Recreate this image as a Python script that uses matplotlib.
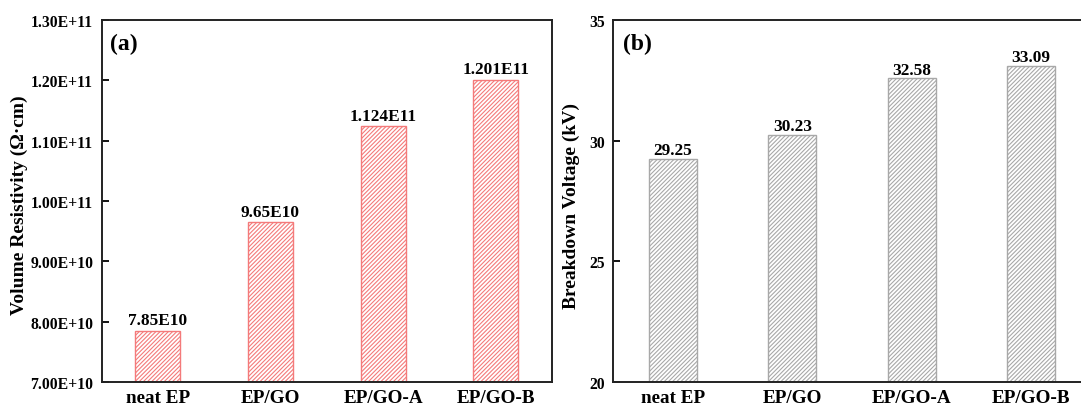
import matplotlib
matplotlib.use("Agg")
import matplotlib.pyplot as plt
import numpy as np

categories = ["neat EP", "EP/GO", "EP/GO-A", "EP/GO-B"]
resistivity = [7.85e10, 9.65e10, 1.124e11, 1.201e11]
resistivity_labels = ["7.85E10", "9.65E10", "1.124E11", "1.201E11"]
breakdown = [29.25, 30.23, 32.58, 33.09]
breakdown_labels = ["29.25", "30.23", "32.58", "33.09"]
yticks_a = [7e10, 8e10, 9e10, 1.0e11, 1.1e11, 1.2e11, 1.3e11]
yticklabels_a = ["7.00E+10", "8.00E+10", "9.00E+10", "1.00E+11",
                 "1.10E+11", "1.20E+11", "1.30E+11"]
yticks_b = [20, 25, 30, 35]

plt.rcParams['font.family'] = ['Liberation Serif', 'DejaVu Serif']
plt.rcParams['font.weight'] = 'bold'
plt.rcParams['hatch.linewidth'] = 0.8

fig = plt.figure(figsize=(10.81, 4.06), dpi=100)
W, H = 1081, 406
axa = fig.add_axes([101.5 / W, 1 - 383 / H, 450.5 / W, 362 / H])
axb = fig.add_axes([613 / W, 1 - 383 / H, 478 / W, 362 / H])

x = np.arange(len(categories))

def style(ax):
    for s in ax.spines.values():
        s.set_linewidth(1.4)
        s.set_color('#222222')
    ax.tick_params(axis='y', direction='in', length=5, width=1.3, labelsize=11.3, pad=6)
    ax.tick_params(axis='x', length=0, labelsize=13.8, pad=5)
    for lab in ax.get_xticklabels() + ax.get_yticklabels():
        lab.set_fontweight('bold')

# Panel (a)
axa.bar(x, resistivity, width=0.4, color='white', edgecolor='#f47a7a',
        hatch='////////', linewidth=1.0)
axa.set_xlim(-0.5, 3.5)
axa.set_ylim(7e10, 1.3e11)
axa.set_yticks(yticks_a)
axa.set_yticklabels(yticklabels_a)
axa.set_xticks(x)
axa.set_xticklabels(categories)
axa.set_ylabel("Volume Resistivity (Ω·cm)", fontsize=14, fontweight='bold')
axa.yaxis.set_label_coords(-0.163, 0.49)
for xi, v, t in zip(x, resistivity, resistivity_labels):
    axa.text(xi, v + 0.04e10, t, ha='center', va='bottom', fontsize=12.4, fontweight='bold')
axa.text(0.018, 0.965, "(a)", transform=axa.transAxes, ha='left', va='top',
         fontsize=17, fontweight='bold')
style(axa)

# Panel (b)
axb.bar(x, breakdown, width=0.4, color='white', edgecolor='#a8a8a8',
        hatch='////////', linewidth=1.0)
axb.set_xlim(-0.5, 3.5)
axb.set_ylim(20, 35)
axb.set_yticks(yticks_b)
axb.set_xticks(x)
axb.set_xticklabels(categories)
axb.set_ylabel("Breakdown Voltage (kV)", fontsize=14, fontweight='bold')
axb.yaxis.set_label_coords(-0.069, 0.49)
for xi, v, t in zip(x, breakdown, breakdown_labels):
    axb.text(xi, v + 0.03, t, ha='center', va='bottom', fontsize=12.4, fontweight='bold')
axb.text(0.02, 0.965, "(b)", transform=axb.transAxes, ha='left', va='top',
         fontsize=17, fontweight='bold')
style(axb)

fig.savefig("out.png", dpi=100)
